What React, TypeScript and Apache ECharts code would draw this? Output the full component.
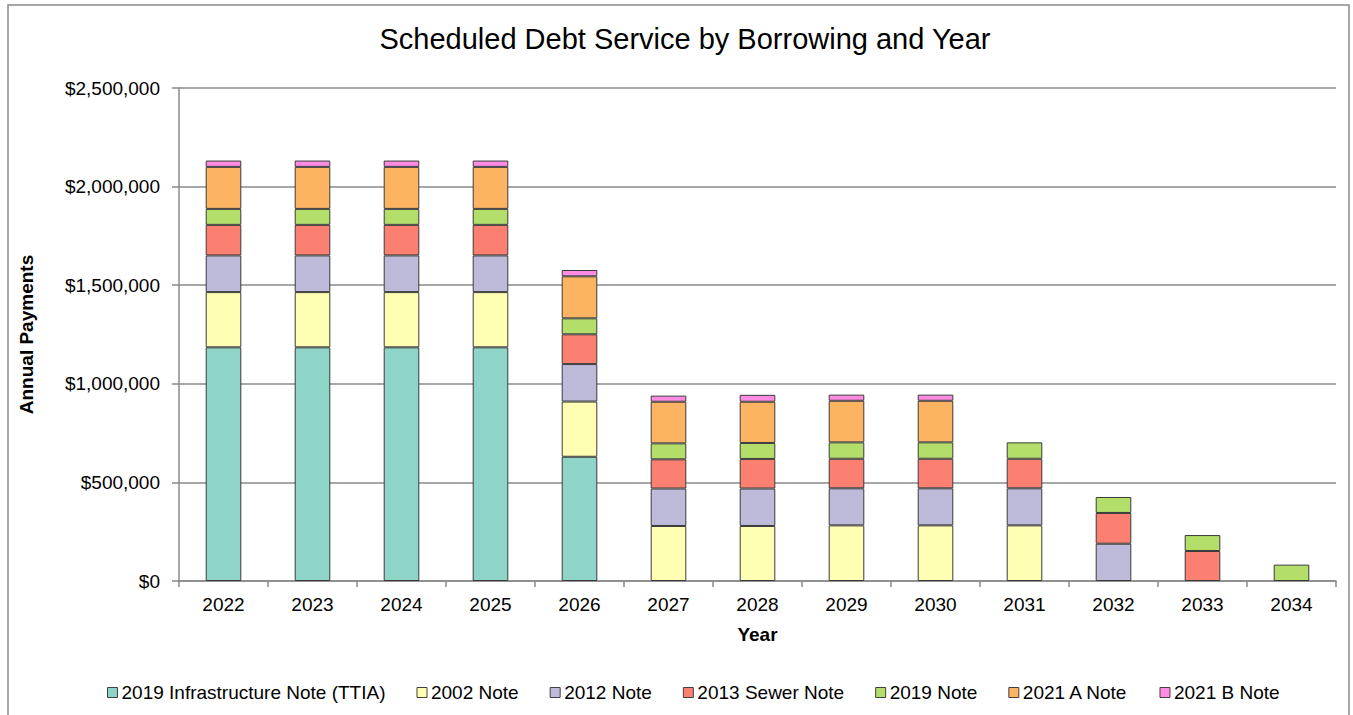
import React, { useEffect, useRef } from "react";
import * as echarts from "echarts";

const years = ["2022", "2023", "2024", "2025", "2026", "2027", "2028", "2029", "2030", "2031", "2032", "2033", "2034"];
const seriesNames = [
  "2019 Infrastructure Note (TTIA)",
  "2002 Note",
  "2012 Note",
  "2013 Sewer Note",
  "2019 Note",
  "2021 A Note",
  "2021 B Note",
];
const ttia = [1185000, 1185000, 1185000, 1185000, 630000, null, null, null, null, null, null, null, null];
const note2002 = [280000, 280000, 280000, 280000, 280000, 279000, 279000, 282000, 282000, 282000, null, null, null];
const note2012 = [186000, 186000, 186000, 186000, 190000, 190000, 190000, 188000, 188000, 188000, 189000, null, null];
const sewer2013 = [155000, 155000, 155000, 155000, 151000, 148000, 150000, 150000, 150000, 150000, 156000, 152000, null];
const note2019 = [81000, 81000, 81000, 81000, 81000, 81000, 81000, 83000, 83000, 83000, 81000, 81000, 83000];
const note2021A = [213000, 213000, 213000, 213000, 213000, 211000, 209000, 211000, 211000, null, null, null, null];
const note2021B = [32000, 32000, 32000, 32000, 32000, 31000, 35000, 31000, 31000, null, null, null, null];
const yTicks = [0, 500000, 1000000, 1500000, 2000000, 2500000];

const seriesData = [ttia, note2002, note2012, sewer2013, note2019, note2021A, note2021B];
const colors = ["#8ED4C7", "#FFFFB3", "#BEBADA", "#FB8072", "#B3DE69", "#FDB462", "#FF8BE2"];

const fmt = (v: number) => "$" + v.toLocaleString("en-US");

export default function App() {
  const ref = useRef<HTMLDivElement>(null);
  useEffect(() => {
    if (!ref.current) return;
    const chart = echarts.init(ref.current, undefined, { renderer: "svg" });
    const font = "Liberation Sans, Arial, sans-serif";
    chart.setOption({
      animation: false,
      backgroundColor: "#ffffff",
      textStyle: { fontFamily: font },
      title: {
        text: "Scheduled Debt Service by Borrowing and Year",
        left: 680,
        textAlign: "center",
        top: 19,
        textStyle: { fontFamily: font, fontSize: 29, fontWeight: "normal", color: "#000" },
      },
      graphic: [
        {
          type: "rect",
          shape: { x: 8, y: 5, width: 1341, height: 720 },
          style: { fill: "none", stroke: "#8a8a8a", lineWidth: 1.5 },
          silent: true,
          z: -1,
        },
      ],
      legend: {
        left: 102,
        top: 678,
        itemWidth: 10,
        itemHeight: 10,
        itemGap: 31,
        icon: "rect",
        textStyle: { fontFamily: font, fontSize: 19, color: "#000", padding: [0, 0, 0, -1] },
        itemStyle: { borderColor: "#404040", borderWidth: 1 },
        data: seriesNames,
      },
      grid: { left: 179, right: 17, top: 88, bottom: 134, containLabel: false },
      xAxis: {
        type: "category",
        data: years,
        name: "Year",
        nameLocation: "middle",
        nameGap: 44,
        nameTextStyle: { fontFamily: font, fontSize: 19, fontWeight: "bold", color: "#000" },
        axisLine: { lineStyle: { color: "#8a8a8a", width: 1.5 } },
        axisTick: { show: true, length: 6, inside: false, lineStyle: { color: "#8a8a8a", width: 1.5 } },
        axisLabel: { fontFamily: font, fontSize: 19, color: "#000", margin: 14 },
      },
      yAxis: {
        type: "value",
        min: 0,
        max: 2500000,
        interval: 500000,
        name: "Annual Payments",
        nameLocation: "middle",
        nameGap: 143,
        nameRotate: 90,
        nameTextStyle: { fontFamily: font, fontSize: 19, fontWeight: "bold", color: "#000" },
        axisLine: { show: true, lineStyle: { color: "#8a8a8a", width: 1.5 } },
        axisTick: { show: true, length: 7, lineStyle: { color: "#8a8a8a", width: 1.5 } },
        axisLabel: {
          fontFamily: font,
          fontSize: 19,
          color: "#000",
          margin: 19,
          formatter: (v: number) => (yTicks.includes(v) ? fmt(v) : ""),
        },
        splitLine: { show: true, lineStyle: { color: "#8a8a8a", width: 1.5 } },
      },
      series: seriesNames.map((name, i) => ({
        name,
        type: "bar",
        stack: "total",
        barWidth: "40%",
        data: seriesData[i],
        itemStyle: { color: colors[i], borderColor: "#3a3a3a", borderWidth: 1 },
        emphasis: { disabled: true },
      })),
    });
    return () => chart.dispose();
  }, []);
  return (
    <div
      ref={ref}
      style={{ position: "fixed", left: 0, top: 0, width: 1353, height: 715 }}
    />
  );
}
